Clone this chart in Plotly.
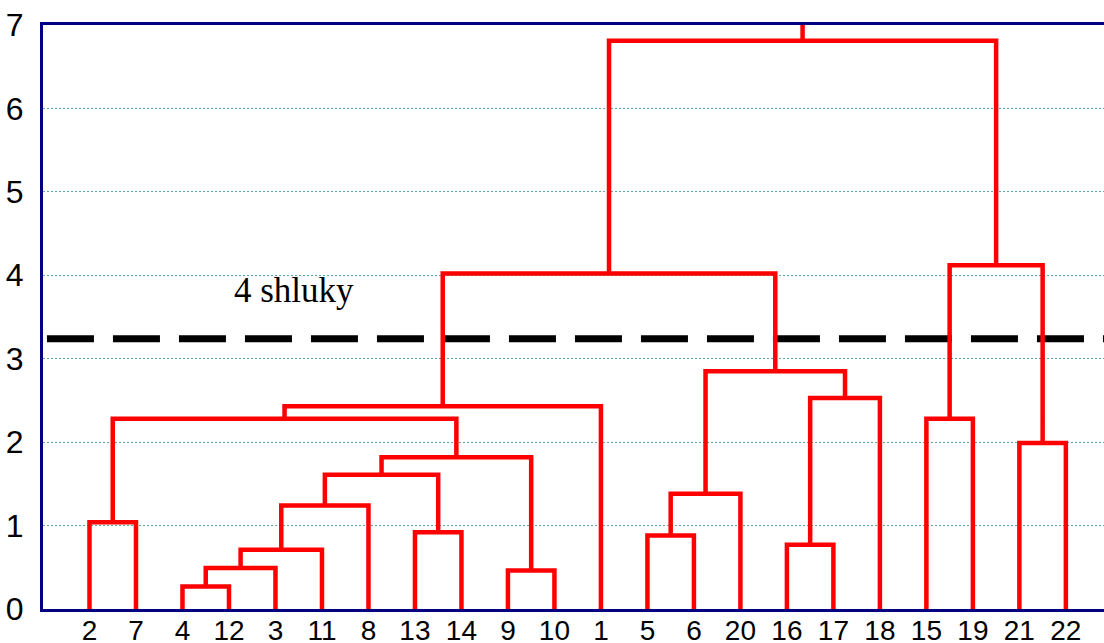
import plotly.graph_objects as go

# ---- data ----
leaf_labels = ["2", "7", "4", "12", "3", "11", "8", "13", "14", "9", "10",
               "1", "5", "6", "20", "16", "17", "18", "15", "19", "21", "22"]

merge_left = ["2", "4", "c1", "c2", "c3", "13", "c4", "9", "c6", "c0", "c9",
              "5", "c11", "16", "c13", "c12", "c10", "15", "21", "c17", "c16"]
merge_right = ["7", "12", "3", "11", "8", "14", "c5", "10", "c7", "c8", "1",
               "6", "20", "17", "18", "c14", "c15", "19", "22", "c18", "c19"]
merge_height = [1.04, 0.27, 0.49, 0.71, 1.24, 0.92, 1.61, 0.46, 1.82, 2.28, 2.43,
                0.88, 1.38, 0.77, 2.53, 2.85, 4.02, 2.28, 1.99, 4.12, 6.81]

cut_height = 3.24
cut_label = "4 shluky"
y_max = 7
y_ticks = [0, 1, 2, 3, 4, 5, 6, 7]

# ---- build dendrogram geometry ----
pos = {lab: i + 1 for i, lab in enumerate(leaf_labels)}
hgt = {lab: 0.0 for lab in leaf_labels}
xs, ys = [], []
for k, (a, b, h) in enumerate(zip(merge_left, merge_right, merge_height)):
    xa, xb = pos[a], pos[b]
    xs += [xa, xa, xb, xb, None]
    ys += [hgt[a], h, h, hgt[b], None]
    name = "c%d" % k
    pos[name] = (xa + xb) / 2
    hgt[name] = h
root = "c%d" % (len(merge_height) - 1)
xs += [pos[root], pos[root], None]
ys += [hgt[root], y_max, None]

x_left = 0.0
x_right = 22.82

fig = go.Figure()
fig.add_trace(go.Scatter(
    x=[0.085, 23.5], y=[cut_height, cut_height], mode="lines",
    line=dict(color="black", width=7, dash="47px,19px"),
    hoverinfo="skip", showlegend=False))
fig.add_trace(go.Scatter(
    x=xs, y=ys, mode="lines",
    line=dict(color="#ff0000", width=4.5, shape="linear"),
    hoverinfo="skip", showlegend=False))

fig.add_annotation(
    x=4.07, y=3.82, xref="x", yref="y", text=cut_label, showarrow=False,
    xanchor="left", yanchor="middle",
    font=dict(family="Liberation Serif, Times New Roman, serif", size=35, color="black"))

fig.update_layout(
    width=1104, height=643,
    margin=dict(l=43, r=0, t=25, b=34, pad=0, autoexpand=False),
    paper_bgcolor="white", plot_bgcolor="white",
    showlegend=False,
    font=dict(family="Liberation Sans, Arial, sans-serif", color="black"),
)
fig.update_xaxes(
    range=[x_left, x_right], automargin=False,
    tickmode="array", tickvals=list(range(1, len(leaf_labels) + 1)), ticktext=leaf_labels,
    tickfont=dict(size=28, color="black"),
    showgrid=False, zeroline=False,
    showline=True, linecolor="#000080", linewidth=3, mirror=True,
    ticks="", ticklabelstandoff=-6,
)
fig.update_yaxes(
    range=[0, y_max], automargin=False,
    tickmode="array", tickvals=y_ticks, ticktext=[str(v) for v in y_ticks],
    tickfont=dict(size=32, color="black"),
    showgrid=True, gridcolor="#5aa9a9", gridwidth=1, griddash="2px,2px",
    zeroline=False,
    showline=True, linecolor="#000080", linewidth=3, mirror=False,
    ticks="", ticklabelstandoff=10,
)

fig.write_html("out.html")
